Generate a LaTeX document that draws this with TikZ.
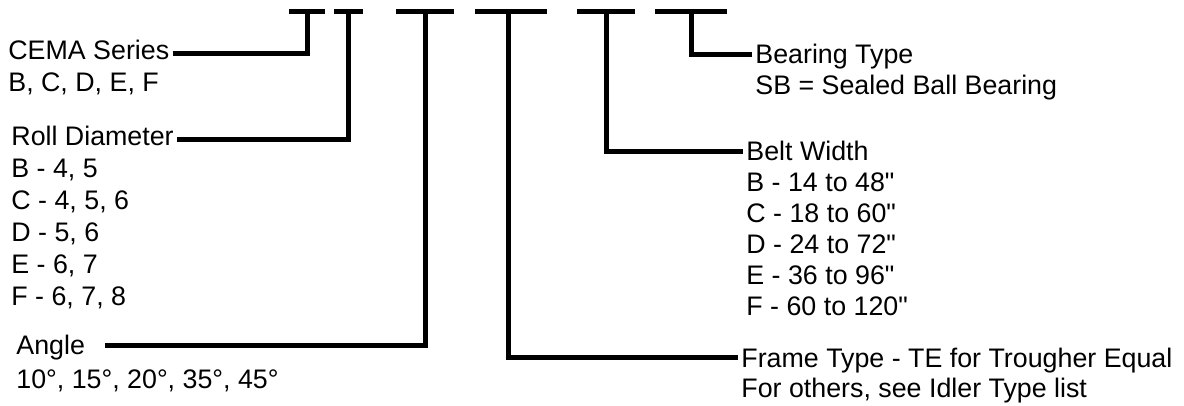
\documentclass[tikz,border=0pt]{standalone}
\usepackage{fontspec}
\setmainfont{Liberation Sans}[Ligatures=TeXOff]
\tikzset{
    codebar/.style={line width=2.5pt},
    leg/.style={line width=2.5pt, line join=miter, shorten <=1.5pt},
    txt/.style={anchor=base west, inner sep=0pt, font=\fontsize{13.4pt}{15pt}\selectfont},
    fieldname/.style={txt, text height=9.6pt, text depth=0pt},
    fieldleft/.style={fieldname, text height=6.4pt}
}
\begin{document}
\begin{tikzpicture}[x=0.5pt,y=-0.5pt]
\useasboundingbox (0,0) rectangle (1184,406);
% code bars along the top, one stem per field
\foreach \a/\b in {289/325,334/363,396/454,475/547,577/635,655/727}
    \draw[codebar] (\a,12) -- (\b,12);
\foreach \x [count=\i] in {307,348,425,508,606,691}
    \coordinate (s\i) at (\x,12);
% left fields
\node[fieldleft] (cema) at (8,60) {CEMA Series};
\node[txt] (cemalist) at (8,92) {B, C, D, E, F};
\node[fieldleft] (roll) at (11,146) {Roll Diameter};
\foreach \t [count=\i] in {{B - 4, 5},{C - 4, 5, 6},{D - 5, 6},{E - 6, 7},{F - 6, 7, 8}}
    \node[txt] (roll\i) at (11,146+32*\i) {\t};
\node[fieldname] (angle) at (16,355) {Angle};
\node[txt] (anglelist) at (16,388) {10°, 15°, 20°, 35°, 45°};
% right fields
\node[fieldname] (bearing) at (755,64) {Bearing Type};
\node[txt] (bearinglist) at (755,95) {SB = Sealed Ball Bearing};
\node[fieldname] (belt) at (746,161) {Belt Width};
\foreach \t [count=\i] in {{B - 14 to 48"},{C - 18 to 60"},{D - 24 to 72"},{E - 36 to 96"},{F - 60 to 120"}}
    \node[txt] (belt\i) at (746,161+31*\i) {\t};
\node[fieldname] (frame) at (741,367) {Frame Type - TE for Trougher Equal};
\node[txt] (framelist) at (741,397) {For others, see Idler Type list};
% legs up to the code bars
\draw[leg] (cema.east) -| (s1);
\draw[leg] (roll.east) -| (s2);
\draw[leg, shorten <=10pt] (angle.east) -| (s3);
\draw[leg] (frame.west) -| (s4);
\draw[leg] (belt.west) -| (s5);
\draw[leg] (bearing.west) -| (s6);
\end{tikzpicture}
\end{document}
